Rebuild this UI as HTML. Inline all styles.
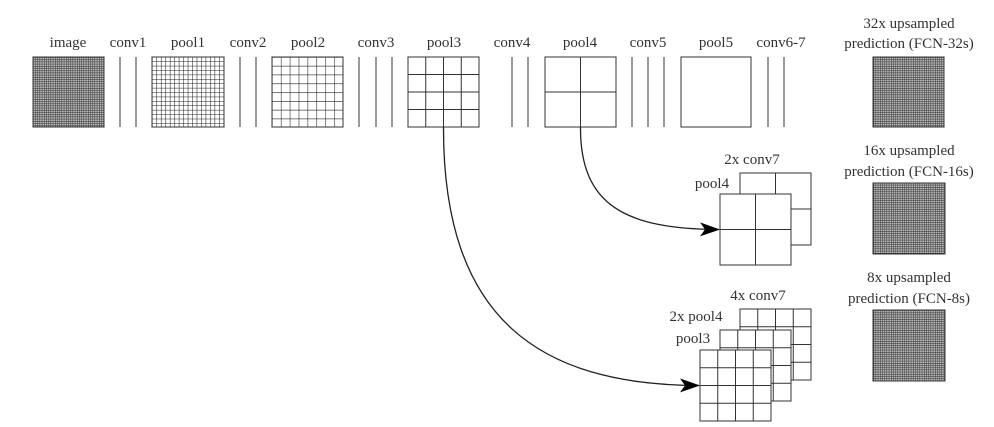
<!DOCTYPE html>
<html><head><meta charset="utf-8"><style>
html,body{margin:0;padding:0;background:#fff;}
svg{display:block}
</style></head><body>
<svg width="994" height="427" viewBox="0 0 994 427" xmlns="http://www.w3.org/2000/svg">
<defs>
<pattern id="fine" width="2.2" height="2.2" patternUnits="userSpaceOnUse">
<rect width="2.2" height="2.2" fill="#bbb"/>
<path d="M0 0H2.2M0 0V2.2" stroke="#333" stroke-width="1"/>
</pattern>
<pattern id="p1" x="152" y="57" width="4.47" height="4.41" patternUnits="userSpaceOnUse">
<path d="M0 0H4.47M0 0V4.41" stroke="#222" stroke-width="1.1" fill="none"/>
</pattern>
<pattern id="p2" x="272" y="57" width="8.9" height="8.8" patternUnits="userSpaceOnUse">
<path d="M0 0H8.9M0 0V8.8" stroke="#222" stroke-width="1.1" fill="none"/>
</pattern>
<marker id="ah" markerWidth="20" markerHeight="14" refX="19" refY="7" orient="auto" markerUnits="userSpaceOnUse">
<path d="M0 0 L20 7 L0 14 L5 7 Z" fill="#000"/>
</marker>
</defs>
<g stroke="#333" stroke-width="1" fill="none">
<rect x="33" y="57" width="71" height="70" fill="url(#fine)"/>
<path d="M120 57V127M136 57V127"/>
<rect x="152" y="57" width="72" height="70" fill="url(#p1)"/>
<path d="M240 57V127M256 57V127"/>
<rect x="272" y="57" width="71" height="70" fill="url(#p2)"/>
<path d="M359 57V127M376 57V127M392 57V127"/>
<rect x="408" y="57" width="71" height="70"/>
<path d="M425.75 57V127M443.5 57V127M461.25 57V127M408 74.5H479M408 92H479M408 109.5H479"/>
<path d="M512 57V127M528 57V127"/>
<rect x="545" y="57" width="71" height="70"/>
<path d="M580.5 57V127M545 92H616"/>
<path d="M632 57V127M648 57V127M664 57V127"/>
<rect x="681" y="57" width="70" height="70"/>
<path d="M768 57V127M784 57V127"/>
<rect x="873" y="57" width="71" height="70" fill="url(#fine)"/>
<rect x="873" y="183" width="72" height="71" fill="url(#fine)"/>
<rect x="873" y="310" width="72" height="71" fill="url(#fine)"/>
<rect x="740" y="173" width="71" height="72" fill="#fff"/>
<path d="M775.5 173V209M740 209H811"/>
<rect x="720" y="194" width="71" height="71" fill="#fff"/>
<path d="M755.5 194V265M720 229.5H791"/>
<rect x="740" y="309" width="71" height="71" fill="#fff"/>
<path d="M757.75 309V380M775.5 309V380M793.25 309V380M740 326.75H811M740 344.5H811M740 362.25H811"/>
<rect x="720" y="330" width="71" height="71" fill="#fff"/>
<path d="M737.75 330V401M755.5 330V401M773.25 330V401M720 347.75H791M720 365.5H791M720 383.25H791"/>
<rect x="700" y="350" width="71" height="71" fill="#fff"/>
<path d="M717.75 350V421M735.5 350V421M753.25 350V421M700 367.75H771M700 385.5H771M700 403.25H771"/>
<path d="M443.5 127 C443 320 540 385 699 385.5" stroke="#222" stroke-width="1.3" marker-end="url(#ah)"/>
<path d="M580.5 127 C580 205 625 229 719 229.5" stroke="#222" stroke-width="1.3" marker-end="url(#ah)"/>
</g>
<g text-anchor="middle" font-family="'Liberation Serif','DejaVu Serif',serif" font-size="15" fill="#333">
<text x="68" y="47">image</text>
<text x="128" y="47">conv1</text>
<text x="188" y="47">pool1</text>
<text x="248" y="47">conv2</text>
<text x="308" y="47">pool2</text>
<text x="376" y="47">conv3</text>
<text x="444" y="47">pool3</text>
<text x="512" y="47">conv4</text>
<text x="580" y="47">pool4</text>
<text x="648" y="47">conv5</text>
<text x="716" y="47">pool5</text>
<text x="781" y="47">conv6-7</text>
<text x="909" y="28">32x upsampled</text>
<text x="909" y="48">prediction (FCN-32s)</text>
<text x="909" y="155">16x upsampled</text>
<text x="909" y="176">prediction (FCN-16s)</text>
<text x="909" y="282">8x upsampled</text>
<text x="909" y="303">prediction (FCN-8s)</text>
<text x="752" y="164">2x conv7</text>
<text x="712" y="188">pool4</text>
<text x="758" y="300">4x conv7</text>
<text x="696" y="321">2x pool4</text>
<text x="693" y="343">pool3</text>
</g>
</svg>
</body></html>
